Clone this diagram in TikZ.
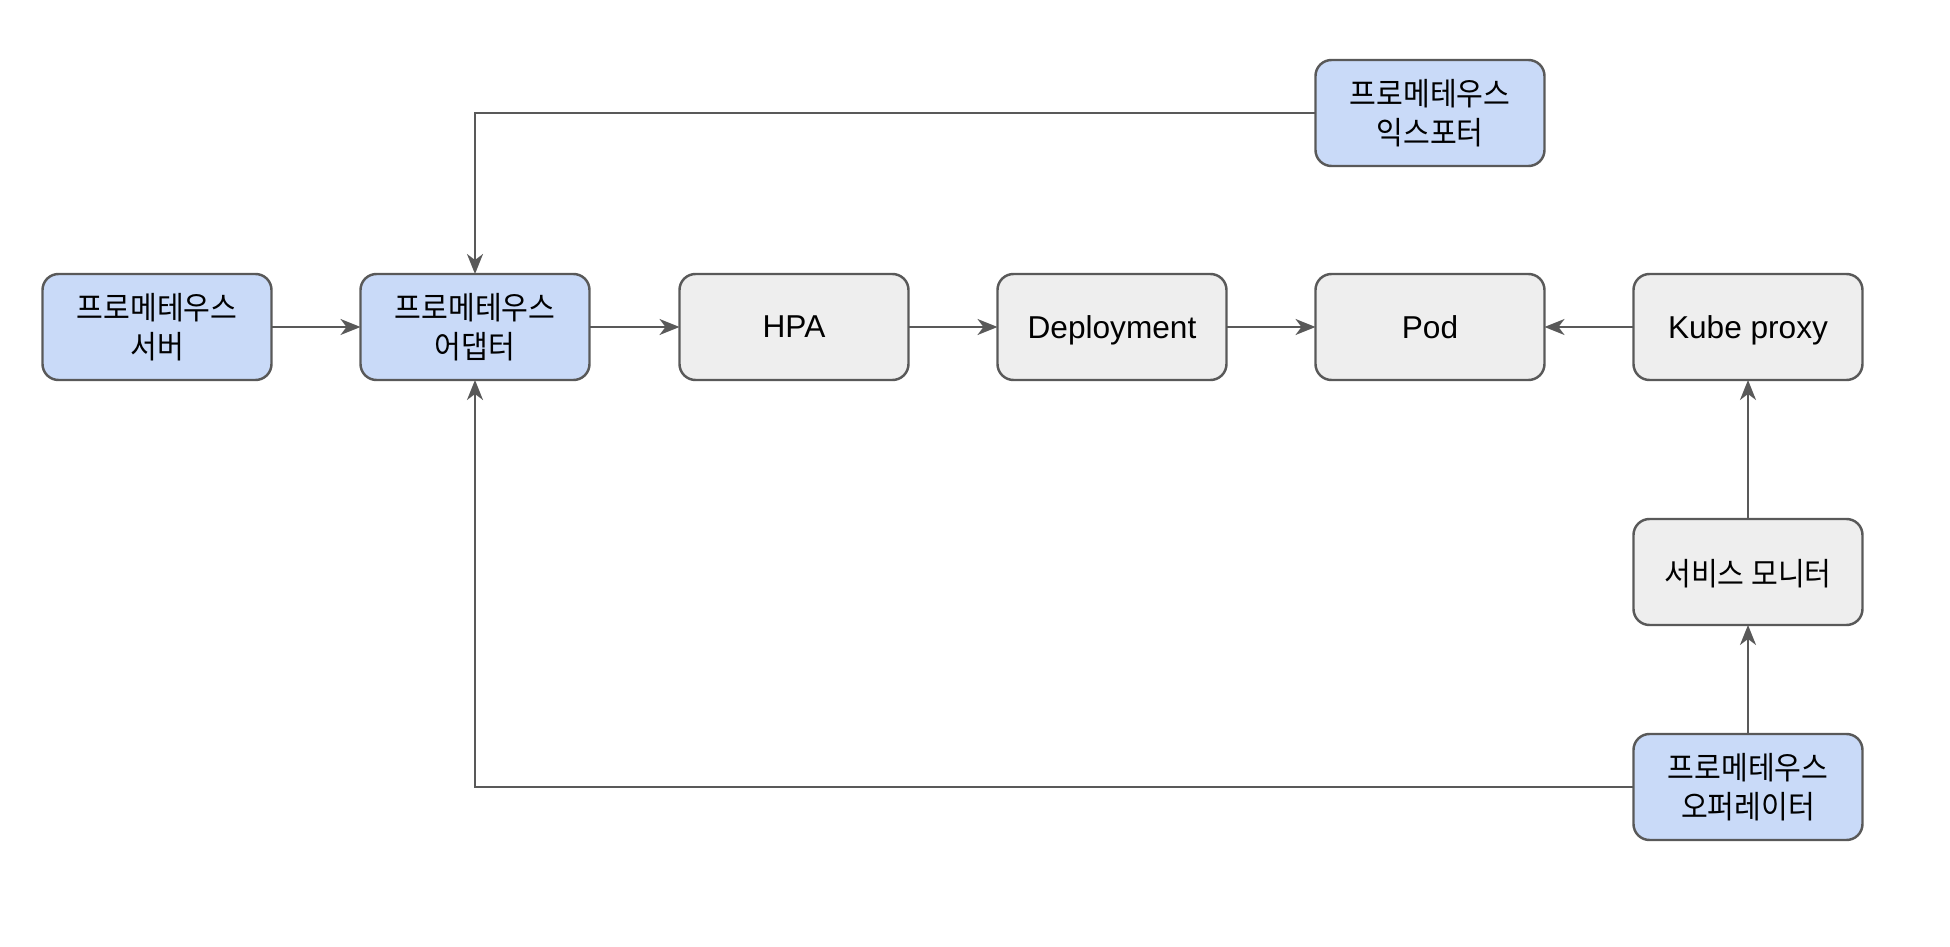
\documentclass[tikz,border=0pt]{standalone}
\usepackage{fontspec}
\setmainfont{Liberation Sans}
\newfontfamily\kr[FakeStretch=0.92]{Noto Sans CJK KR}
\usetikzlibrary{arrows.meta}
\definecolor{promblue}{HTML}{C9DAF8}
\definecolor{k8sgray}{HTML}{EEEEEE}
\definecolor{edgegray}{HTML}{595959}
\begin{document}
\begin{tikzpicture}[inner sep=0pt,outer sep=0pt,line width=0.7pt,
compblock/.style={draw=edgegray,rectangle,rounded corners=0.16cm,minimum width=2.29cm,minimum height=1.06cm,align=center,font=\fontsize{9}{11}\selectfont},
promblock/.style={compblock,fill=promblue,font=\fontsize{9}{11}\selectfont\kr},
kubeblock/.style={compblock,fill=k8sgray,text depth=0pt},
flow/.style={draw=edgegray,line width=0.6pt,-{Stealth[length=0.2cm,width=0.16cm,inset=0.06cm]}}]
\useasboundingbox (0,0) rectangle (19.5,9.46);
\draw (1.57,6.19) node[promblock] (server) {프로메테우스\\서버};
\draw (4.75,6.19) node[promblock] (adapter) {프로메테우스\\어댑터};
\draw (7.94,6.19) node[kubeblock] (hpa) {HPA};
\draw (11.12,6.19) node[kubeblock] (deploy) {Deployment};
\draw (14.30,6.19) node[kubeblock] (pod) {Pod};
\draw (17.48,6.19) node[kubeblock] (proxy) {Kube proxy};
\draw (14.30,8.33) node[promblock] (exporter) {프로메테우스\\익스포터};
\draw (17.48,3.74) node[kubeblock,font=\fontsize{9}{11}\selectfont\kr] (monitor) {서비스 모니터};
\draw (17.48,1.59) node[promblock] (operator) {프로메테우스\\오퍼레이터};
\draw[flow] (server) -- (adapter);
\draw[flow] (adapter) -- (hpa);
\draw[flow] (hpa) -- (deploy);
\draw[flow] (deploy) -- (pod);
\draw[flow] (proxy) -- (pod);
\draw[flow] (monitor) -- (proxy);
\draw[flow] (operator) -- (monitor);
\draw[flow] (exporter.west) -| (adapter.north);
\draw[flow] (operator.west) -| (adapter.south);
\end{tikzpicture}
\end{document}
